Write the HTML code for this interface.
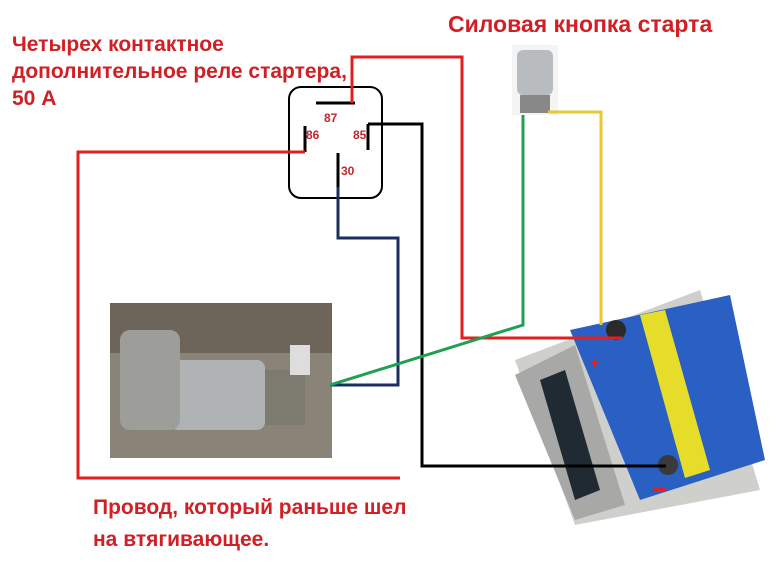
<!DOCTYPE html>
<html><head><meta charset="utf-8"><style>
body{margin:0;width:783px;height:565px;background:#fff;overflow:hidden;position:relative;font-family:"Liberation Sans","Noto Sans CJK SC",sans-serif}
.t{position:absolute;color:#d01f25;font-size:21px;font-weight:bold;white-space:nowrap}
</style></head><body>
<svg width="783" height="565" style="position:absolute;left:0;top:0">
<rect x="110" y="303" width="222" height="155" fill="#8a8478"/>
<rect x="110" y="303" width="222" height="50" fill="#6d655a"/>
<rect x="170" y="360" width="95" height="70" rx="8" fill="#b0b3b3"/>
<rect x="120" y="330" width="60" height="100" rx="10" fill="#9d9e9a"/>
<rect x="265" y="370" width="40" height="55" fill="#7d7a70"/>
<rect x="290" y="345" width="20" height="30" fill="#ddd"/>
<rect x="512" y="45" width="46" height="70" fill="#f4f4f4"/>
<rect x="517" y="50" width="36" height="45" rx="6" fill="#b9bcbf"/>
<rect x="520" y="95" width="30" height="18" fill="#888"/>
<polygon points="515,360 700,290 760,490 575,525" fill="#cfcfcc"/>
<polygon points="570,330 730,295 765,460 640,500" fill="#2a5fc4"/>
<polygon points="640,315 665,310 710,470 685,478" fill="#e6dc2a"/>
<polygon points="515,375 575,345 625,505 575,520" fill="#a8a9a6"/>
<polygon points="540,380 565,370 600,490 575,500" fill="#1f2a33"/>
<circle cx="616" cy="330" r="10" fill="#2a2a2a"/>
<circle cx="668" cy="465" r="10" fill="#3a3a3a"/>
<text x="590" y="368" fill="#e02020" font-size="16" font-weight="bold">+</text>
<rect x="653" y="488" width="12" height="3" fill="#e02020"/>
<g fill="none" stroke-width="3">
<rect x="289" y="87" width="93" height="111" rx="12" stroke="#000" stroke-width="2"/>
<path d="M316 103H355M305 126V152M368 124V150M338 153V187" stroke="#000"/>
<path d="M352 103V57H462V338H622" stroke="#e02020"/>
<path d="M305 152H78V478H400" stroke="#e02020"/>
<path d="M368 124H422V466H666" stroke="#000"/>
<path d="M338 187V238H398V385H330" stroke="#1a2f60"/>
<path d="M523 115V325L330 385" stroke="#20a050"/>
<path d="M548 112H601V325" stroke="#e8c830"/>
</g>
<g fill="#c0272d" font-size="12" font-weight="bold" font-family="Liberation Sans,sans-serif">
<text x="324" y="122">87</text><text x="306" y="139">86</text><text x="353" y="139">85</text><text x="341" y="175">30</text>
</g>
</svg>
<div class="t" style="left:12px;top:31px;line-height:27px">Четырех контактное<br>дополнительное реле стартера,<br>50 А</div>
<div class="t" style="left:448px;top:11px;font-size:23px">Силовая кнопка старта</div>
<div class="t" style="left:93px;top:492px;line-height:32px">Провод, который раньше шел<br>на втягивающее.</div>
</body></html>
